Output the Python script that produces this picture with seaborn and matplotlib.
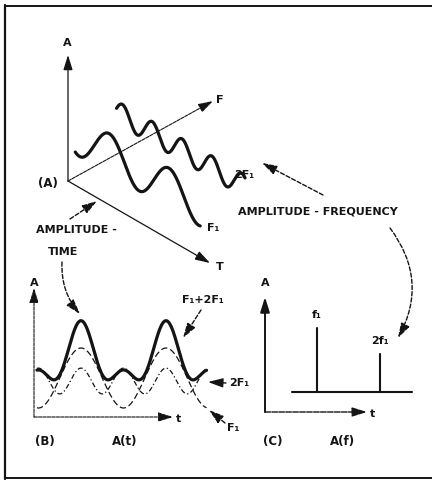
import numpy as np
import matplotlib
matplotlib.use("Agg")
import matplotlib.pyplot as plt
import seaborn as sns

# component waves (harmonic of F1) and their relative amplitudes
harmonics = [1, 2]
wave_amps = [1.0, 0.55]
wave_names = ["F\u2081", "2F\u2081"]
# the resultant F1 + 2F1 as drawn in (B), relative to F1
sum_amps = [0.82, 0.49]
# line spectrum in (C)
spec_freqs = [1, 2]
spec_amps = [1.0, 0.6]
spec_names = ["f\u2081", "2f\u2081"]

INK = "#141414"
sns.set_style("white")
plt.rcParams["font.family"] = ["DejaVu Sans"]
plt.rcParams["font.weight"] = "bold"

fig = plt.figure(figsize=(4.32, 4.83), dpi=100)
ax = fig.add_axes([0, 0, 1, 1])
ax.set_xlim(0, 432)
ax.set_ylim(483, 0)
ax.axis("off")

def arrow(tail, head, lw=1.0, ls="-", rad=0.0, hl=0.9, hw=0.28):
    ax.annotate("", xy=head, xytext=tail,
                arrowprops=dict(arrowstyle=f"-|>,head_length={hl},head_width={hw}",
                                color=INK, lw=lw, linestyle=ls, shrinkA=0, shrinkB=0,
                                connectionstyle=f"arc3,rad={rad}"))

def label(x, y, s, size=8, ha="center"):
    ax.text(x, y, s, fontsize=size, ha=ha, va="center", color=INK, fontweight="bold")

# frame of the scanned figure
ax.plot([5, 5], [5, 479], color=INK, lw=1.6)
ax.plot([5, 432], [6, 6], color=INK, lw=1.4)
ax.plot([5, 432], [478, 478], color=INK, lw=1.4)

# ---- (A) amplitude / time / frequency view ----
O = np.array([68.0, 181.0])
T_VEC = np.array([142.0, 82.0])
F_VEC = np.array([145.0, -80.0])

def proj(t, f, a):
    p = O + np.outer(t, T_VEC) + np.outer(np.full_like(t, f), F_VEC)
    return p[:, 0], p[:, 1] - a

arrow(tuple(O), (68, 55), lw=0.9)
arrow(tuple(O), tuple(O + T_VEC), lw=0.9)
arrow(tuple(O), tuple(O + F_VEC), lw=0.8, ls=(0, (3, 1)))
label(67, 43, "A")
label(220, 100, "F")
label(220, 267, "T")
label(48, 183, "(A)", size=8.5)

wave_fpos = [0.05, 0.33]
wave_t = [(0.0, 0.88), (0.005, 0.91)]
wave_tpeak = [0.24, 0.256]
period_t = 0.42
for h, amp, fpos, (t0, t1), tp in zip(harmonics, wave_amps, wave_fpos, wave_t, wave_tpeak):
    t = np.linspace(t0, t1, 300)
    x, y = proj(t, fpos, 43 + 20 * amp * np.cos(2 * np.pi * h * (t - tp) / period_t))
    sns.lineplot(x=x, y=y, sort=False, estimator=None, ax=ax, color=INK, lw=2.3)
label(244, 175, wave_names[1])
label(213, 228, wave_names[0])

label(318, 212, "AMPLITUDE - FREQUENCY")
label(76, 230, "AMPLITUDE -")
label(63, 252, "TIME")
arrow((70, 219), (97, 201), ls=(0, (3, 1.5)))
arrow((323, 195), (262, 163), ls=(0, (3, 1.5)))
arrow((62, 262), (80, 314), ls=(0, (3, 1.5)), rad=0.2)
arrow((390, 228), (398, 338), ls=(0, (3, 1.5)), rad=-0.32)

# ---- (B) time domain ----
BX, BY, BW, BA = 34, 417, 85, 30   # origin, px per F1 period, px per amplitude unit
arrow((BX, BY), (BX, 288), lw=0.8, ls=(0, (3, 1)))
arrow((BX, BY), (173, BY), lw=0.8, ls=(0, (3, 1)))
label(34, 283, "A")
label(178, 419, "t")
label(45, 441, "(B)", size=8.5)
label(125, 441, "A(t)", size=8.5)

tb = np.linspace(0.035, 2.03, 400)
theta = 2 * np.pi * (tb - 0.553)
b_centres = [1.3, 1.2]
b_styles = [(0, (5, 2.5)), (0, (4, 2, 1, 2))]
b_amps = [1.0, 0.43]
for h, amp, c, ls in zip(harmonics, b_amps, b_centres, b_styles):
    sns.lineplot(x=BX + BW * tb, y=BY - BA * (c + amp * np.cos(h * theta)),
                 sort=False, estimator=None, ax=ax, color=INK, lw=0.9, linestyle=ls)
resultant = sum(a * np.cos(h * theta) for h, a in zip(harmonics, sum_amps))
sns.lineplot(x=BX + BW * tb, y=BY - BA * (1.9 + resultant),
             sort=False, estimator=None, ax=ax, color=INK, lw=2.3)
label(203, 300, "F\u2081+2F\u2081")
arrow((201, 310), (183, 338), ls=(0, (3, 1.5)))
label(239, 383, wave_names[1])
arrow((226, 383), (208, 382), lw=1.0)
label(233, 428, wave_names[0])
arrow((225, 423), (209, 410), ls=(0, (3, 1.5)))

# ---- (C) frequency domain ----
CX, CY, CBASE, CF, CA = 265, 412, 392, 63, 64
arrow((CX, CY), (CX, 297), lw=1.4)
arrow((CX, CY), (367, CY), lw=1.0, ls=(0, (4, 1)))
label(265, 283, "A")
label(373, 414, "t")
label(273, 441, "(C)", size=8.5)
label(343, 441, "A(f)", size=8.5)
ax.plot([292, 412], [CBASE, CBASE], color=INK, lw=1.5)
for f, a, name in zip(spec_freqs, spec_amps, spec_names):
    x = CX - 11 + CF * f
    ax.plot([x, x], [CBASE, CBASE - CA * a], color=INK, lw=1.5)
    label(x, CBASE - CA * a - 13, name)

fig.savefig("out.png", dpi=100, facecolor="white")
